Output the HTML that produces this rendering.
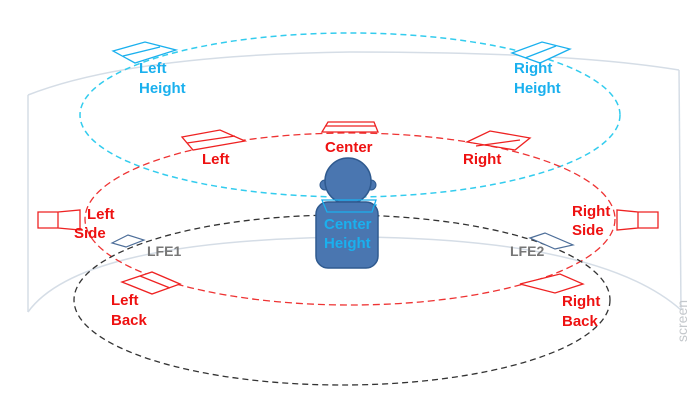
<!DOCTYPE html>
<html><head><style>body{margin:0;background:#fff}svg{display:block}text{font-family:"Liberation Sans",sans-serif;font-weight:bold;font-size:15px}</style></head><body>
<svg width="700" height="416" viewBox="0 0 700 416">
<g fill="none" stroke="#d5dde6" stroke-width="1.5">
<path d="M28,95 Q130,55 350,52 Q570,52 679,70"/>
<path d="M28,95 L28,312"/><path d="M679,70 L681,310"/>
<path d="M28,312 Q80,240 350,237 Q600,238 681,310"/>
</g>
<ellipse cx="350" cy="115" rx="270" ry="82" fill="none" stroke="#33ccee" stroke-width="1.5" stroke-dasharray="6,4"/>
<ellipse cx="350" cy="219" rx="265" ry="86" fill="none" stroke="#ee3333" stroke-width="1.3" stroke-dasharray="7,4"/>
<ellipse cx="342" cy="300" rx="268" ry="85" fill="none" stroke="#333" stroke-width="1.3" stroke-dasharray="6,4"/>
<g fill="#fff" stroke="#1ab0ee" stroke-width="1.3">
<path d="M113,51 L145,42 L176,50 L135,63 Z M123,56 L160,47"/>
<path d="M512,53 L542,42 L570,49 L540,63 Z M525,58 L556,46"/>
<path d="M322,205 L376,205 L372,213 L327,213 Z"/>
</g>
<g fill="#fff" stroke="#ee2222" stroke-width="1.3">
<path d="M182,137 L220,130 L245,141 L193,150 Z M187,143 L235,136"/>
<path d="M467,142 L490,131 L530,138 L515,150 Z M476,146 L520,140"/>
<path d="M322,132 L378,132 L374,122 L328,122 Z M325,126 L376,126"/>
<path d="M38,212 L58,212 L58,228 L38,228 Z M58,212 L80,210 L80,230 L58,228"/>
<path d="M658,212 L638,212 L638,228 L658,228 Z M638,212 L617,210 L617,230 L638,228"/>
<path d="M122,282 L152,272 L180,284 L152,294 Z M140,276 L170,288"/>
<path d="M520,284 L560,274 L583,284 L555,293 Z"/>
</g>
<g fill="#fff" stroke="#4d6e99" stroke-width="1.2">
<path d="M112,243 L128,235 L144,240 L126,247 Z"/>
<path d="M530,238 L545,233 L573,245 L555,249 Z"/>
</g>
<circle cx="325" cy="185" r="5" fill="#4a76b0" stroke="#2f5a8f"/>
<circle cx="371" cy="185" r="5" fill="#4a76b0" stroke="#2f5a8f"/>
<circle cx="348" cy="181" r="23" fill="#4a76b0" stroke="#2f5a8f" stroke-width="1.5"/>
<rect x="316" y="202" width="62" height="66" rx="12" fill="#4a76b0" stroke="#2f5a8f" stroke-width="1.5"/>
<path d="M322,200 L376,200 L372,212 L327,212 Z" fill="none" stroke="#1ab0ee" stroke-width="1.3"/>
<g fill="#1ab0ee">
<text x="139" y="73">Left</text><text x="139" y="93">Height</text>
<text x="514" y="73">Right</text><text x="514" y="93">Height</text>
<text x="324" y="229">Center</text><text x="324" y="248">Height</text>
</g>
<g fill="#ee1111">
<text x="202" y="164">Left</text>
<text x="325" y="152">Center</text>
<text x="463" y="164">Right</text>
<text x="87" y="219">Left</text><text x="74" y="238">Side</text>
<text x="572" y="216">Right</text><text x="572" y="235">Side</text>
<text x="111" y="305">Left</text><text x="111" y="325">Back</text>
<text x="562" y="306">Right</text><text x="562" y="326">Back</text>
</g>
<g fill="#777" font-size="14"><text x="147" y="256" style="font-size:14px">LFE1</text><text x="510" y="256" style="font-size:14px">LFE2</text></g>
<text transform="translate(687,342) rotate(-90)" fill="#c4c8cc" style="font-weight:normal;font-size:14px">screen</text>
</svg>
</body></html>
